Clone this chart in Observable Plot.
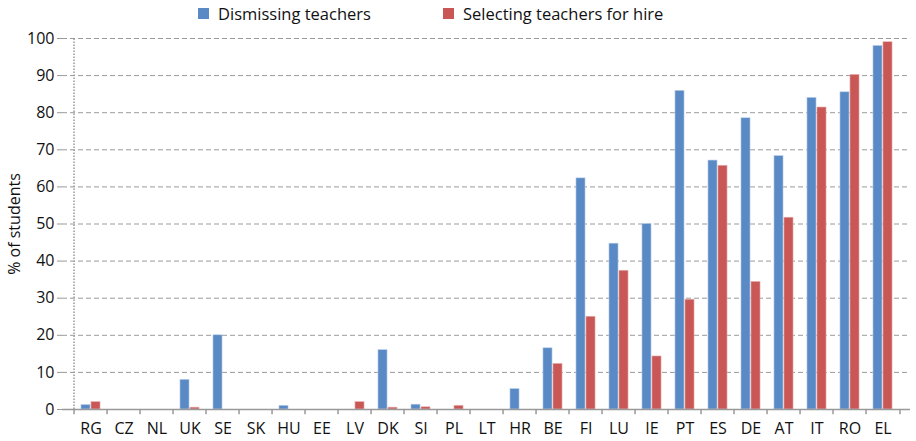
<!DOCTYPE html>
<html><head><meta charset="utf-8">
<script src="https://cdn.jsdelivr.net/npm/d3@7"></script>
<script src="https://cdn.jsdelivr.net/npm/@observablehq/plot@0.6"></script>
<style>
body{margin:0;background:#fff;font-family:"Open Sans",sans-serif;}
#legend{height:28px;position:relative;font-size:16.5px;color:#111;}
.item{position:absolute;top:2px;display:flex;align-items:center;}
.sw{width:11px;height:11px;margin-right:9px;}
</style></head><body>
<div id="legend"></div>
<div id="chart"></div>
<script>
const countries = ["RG","CZ","NL","UK","SE","SK","HU","EE","LV","DK","SI","PL","LT","HR","BE","FI","LU","IE","PT","ES","DE","AT","IT","RO","EL"];
const dismissing = [1.2,0,0,8,20,0,1,0,0,16,1.3,0,0,5.5,16.5,62.3,44.7,50,85.9,67.1,78.5,68.3,84,85.5,98];
const selecting = [2,0,0,0.5,0,0,0,0,2,0.5,0.6,1,0,0,12.3,25,37.4,14.3,29.6,65.7,34.4,51.7,81.4,90.2,99];
const seriesNames = ["Dismissing teachers","Selecting teachers for hire"];
const colors = ["#5a8ac6","#c95756"];
const yTicks = [0,10,20,30,40,50,60,70,80,90,100];

const legend = document.getElementById("legend");
[[198,0],[443,1]].forEach(([x,i])=>{
  const d=document.createElement("div");d.className="item";d.style.left=x+"px";
  d.innerHTML=`<span class="sw" style="background:${colors[i]}"></span><span>${seriesNames[i]}</span>`;
  legend.appendChild(d);
});

const width=916, mL=62, mR=6;
const bw=(width-mL-mR)/countries.length;
const barW=10;
const rows = countries.map((c,i)=>({c, d:dismissing[i], s:selecting[i]}));
const FS = 16;

const chart = Plot.plot({
  width, height:413,
  marginLeft:mL, marginRight:mR, marginTop:10, marginBottom:32,
  style:{fontFamily:"Open Sans, sans-serif", fontSize:FS+"px", color:"#111", overflow:"visible"},
  x:{domain:countries, padding:0, axis:null},
  y:{domain:[0,100], ticks:yTicks, axis:null},
  marks:[
    Plot.gridY(yTicks.filter(t=>t>0), {stroke:"#9a9a9a", strokeOpacity:1, strokeDasharray:"5,3"}),
    Plot.axisY({ticks:yTicks, tickSize:5, tickPadding:3, stroke:"#999", fontSize:FS, fill:"#111", label:null}),
    Plot.text(["% of students"], {frameAnchor:"left", textAnchor:"middle", dx:-48, rotate:-90, fontSize:FS, fill:"#111"}),
    Plot.ruleX([countries[0]], {dx:-bw/2, y1:0, y2:100, stroke:"#999", strokeDasharray:"1.5,1.5", strokeWidth:1.5}),
    Plot.barY(rows, {x:"c", y:"d", fill:colors[0], stroke:"#bcd0ea", strokeWidth:0.6, insetLeft:bw/2-barW, insetRight:bw/2}),
    Plot.barY(rows, {x:"c", y:"s", fill:colors[1], stroke:"#e6b5b4", strokeWidth:0.6, insetLeft:bw/2, insetRight:bw/2-barW}),
    Plot.ruleY([0], {stroke:"#999", strokeWidth:1.5}),
    Plot.ruleX(countries, {x:d=>d, dx:-bw/2, y1:0, y2:-1.4, stroke:"#999", strokeWidth:1.5}),
    Plot.ruleX([countries[countries.length-1]], {dx:bw/2, y1:0, y2:-1.4, stroke:"#999", strokeWidth:1.5}),
    Plot.text(countries, {x:d=>d, y:0, text:d=>d, dy:19, fontSize:FS, fill:"#111"})
  ]
});
document.getElementById("chart").appendChild(chart);
</script>
</body></html>
